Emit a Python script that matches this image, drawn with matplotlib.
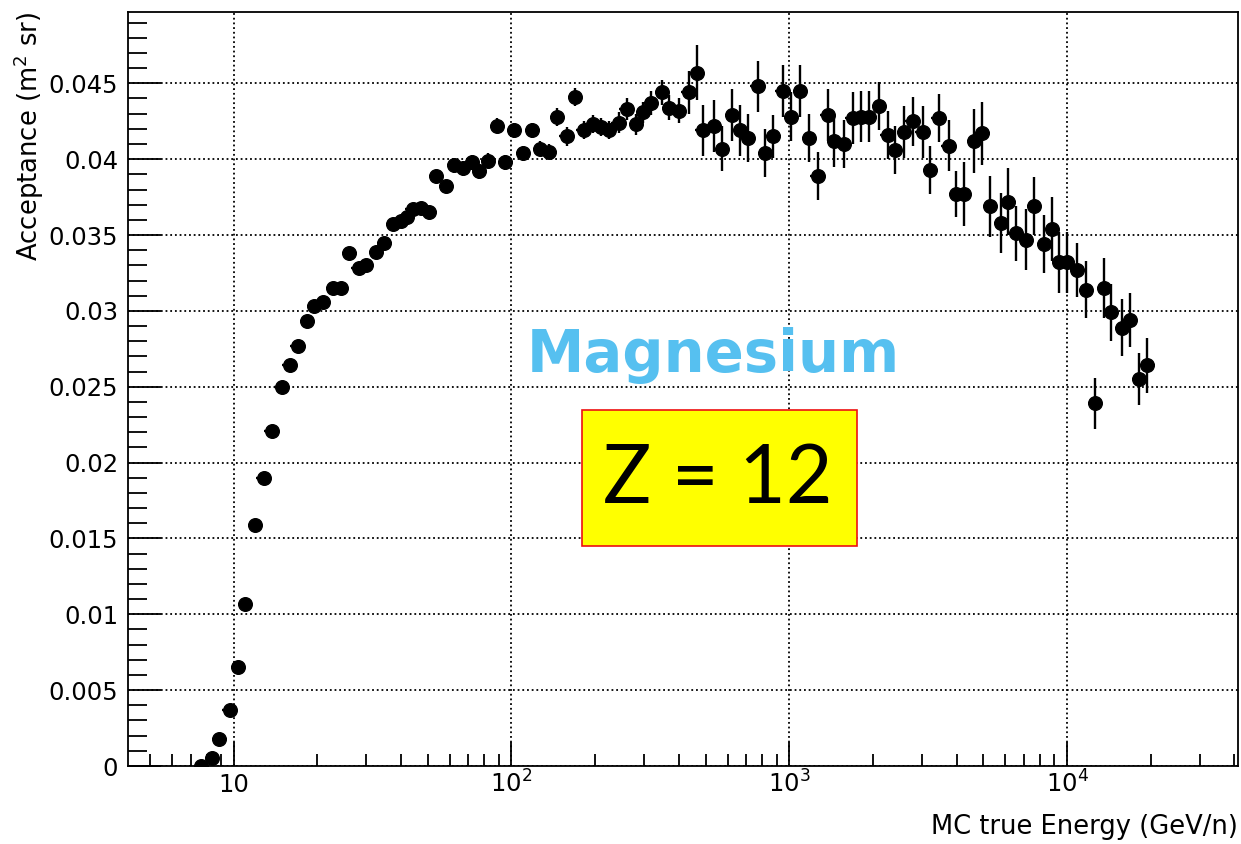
import matplotlib
matplotlib.use("Agg")
import matplotlib.pyplot as plt
from matplotlib.patches import Rectangle
import numpy as np

# acceptance vs MC true energy for Mg (Z = 12)
energy = [7.65, 8.36, 8.90, 9.67, 10.36, 11.0, 11.97, 12.82, 13.7, 14.9,
          15.9, 17.0, 18.4, 19.5, 20.9, 22.8, 24.4, 26.1, 28.2, 30.0,
          32.6, 34.9, 37.4, 40.1, 42.0, 44.1, 47.3, 50.7, 53.6, 58.2,
          62.0, 66.8, 72.0, 76.7, 82.2, 88.9, 95.1, 102, 110, 119,
          127, 137, 146, 158, 169, 182, 196, 210, 225, 243,
          260, 281, 297, 318, 349, 370, 400, 434, 464, 488,
          537, 573, 622, 665, 708, 769, 820, 876, 946, 1014,
          1092, 1180, 1264, 1374, 1453, 1568, 1690, 1811, 1941, 2100,
          2259, 2401, 2592, 2779, 3018, 3217, 3447, 3743, 3979, 4259,
          4628, 4957, 5268, 5776, 6150, 6536, 7100, 7606, 8262, 8810,
          9357, 10025, 10890, 11670, 12610, 13590, 14360, 15740, 16830, 18160,
          19460]

acceptance = [0.0000, 0.0005, 0.0018, 0.0037, 0.0065, 0.0107, 0.0159, 0.0190, 0.0221, 0.0250,
              0.0264, 0.0277, 0.0293, 0.0303, 0.0306, 0.0315, 0.0315, 0.0338, 0.0328, 0.0330,
              0.0339, 0.0345, 0.0357, 0.0359, 0.0362, 0.0367, 0.0368, 0.0365, 0.0389, 0.0382,
              0.0396, 0.0394, 0.0398, 0.0392, 0.0399, 0.0422, 0.0398, 0.0419, 0.0404, 0.0419,
              0.0407, 0.0405, 0.0428, 0.0415, 0.0441, 0.0419, 0.0423, 0.0421, 0.0419, 0.0424,
              0.0433, 0.0423, 0.0431, 0.0437, 0.0444, 0.0434, 0.0432, 0.0444, 0.0457, 0.0419,
              0.0422, 0.0407, 0.0429, 0.0419, 0.0414, 0.0448, 0.0404, 0.0415, 0.0445, 0.0428,
              0.0445, 0.0414, 0.0389, 0.0429, 0.0412, 0.0410, 0.0427, 0.0428, 0.0428, 0.0435,
              0.0416, 0.0406, 0.0418, 0.0425, 0.0418, 0.0393, 0.0427, 0.0409, 0.0377, 0.0377,
              0.0412, 0.0417, 0.0369, 0.0358, 0.0372, 0.0351, 0.0347, 0.0369, 0.0344, 0.0354,
              0.0332, 0.0332, 0.0327, 0.0314, 0.0239, 0.0315, 0.0299, 0.0289, 0.0294, 0.0255,
              0.0264]

acc_err = [0.0002, 0.0002, 0.0002, 0.0002, 0.0002, 0.0003, 0.0003, 0.0003, 0.0003, 0.0003,
           0.0003, 0.0003, 0.0003, 0.0003, 0.0003, 0.0003, 0.0003, 0.0004, 0.0004, 0.0004,
           0.0004, 0.0004, 0.0004, 0.0004, 0.0004, 0.0004, 0.0004, 0.0004, 0.0004, 0.0004,
           0.0005, 0.0005, 0.0005, 0.0005, 0.0005, 0.0005, 0.0005, 0.0005, 0.0005, 0.0005,
           0.0005, 0.0005, 0.0006, 0.0006, 0.0006, 0.0006, 0.0006, 0.0006, 0.0006, 0.0007,
           0.0007, 0.0007, 0.0007, 0.0008, 0.0008, 0.0008, 0.0008, 0.0014, 0.0018, 0.0017,
           0.0017, 0.0015, 0.0017, 0.0017, 0.0016, 0.0017, 0.0016, 0.0014, 0.0017, 0.0016,
           0.0017, 0.0016, 0.0016, 0.0017, 0.0017, 0.0016, 0.0017, 0.0017, 0.0017, 0.0016,
           0.0016, 0.0016, 0.0017, 0.0016, 0.0017, 0.0016, 0.0016, 0.0017, 0.0015, 0.0021,
           0.0021, 0.0021, 0.0020, 0.0020, 0.0022, 0.0018, 0.0020, 0.0019, 0.0019, 0.0021,
           0.0020, 0.0020, 0.0018, 0.0019, 0.0017, 0.0020, 0.0019, 0.0019, 0.0018, 0.0017,
           0.0018]

xtick_vals = [10, 100, 1000, 10000]
xtick_labels = ["10", "$10^{2}$", "$10^{3}$", "$10^{4}$"]
ytick_vals = [0, 0.005, 0.01, 0.015, 0.02, 0.025, 0.03, 0.035, 0.04, 0.045]
ytick_labels = ["0", "0.005", "0.01", "0.015", "0.02", "0.025", "0.03", "0.035", "0.04", "0.045"]

plt.rcParams["font.family"] = "DejaVu Sans"
plt.rcParams["mathtext.fontset"] = "dejavusans"

W, H = 1241, 844
fig = plt.figure(figsize=(W / 100, H / 100), dpi=100)
ax = fig.add_axes([128 / W, (H - 766) / H, 1110 / W, 754 / H])

E = np.array(energy)
half = 0.026  # half bin width in dex
xerr = [E - E / 10**half, E * 10**half - E]

ax.errorbar(E, acceptance, yerr=acc_err, xerr=xerr, fmt="o", color="black",
            ms=9.8, elinewidth=1.7, capsize=0, zorder=3)

ax.set_xscale("log")
ax.set_xlim(4.17, 41200)
ax.set_ylim(0, 0.0497)

ax.set_xticks(xtick_vals)
ax.set_xticklabels(xtick_labels)
ax.set_yticks(ytick_vals)
ax.set_yticklabels(ytick_labels)
ax.xaxis.set_minor_locator(matplotlib.ticker.LogLocator(base=10, subs=np.arange(2, 10)))
ax.xaxis.set_minor_formatter(matplotlib.ticker.NullFormatter())
ax.yaxis.set_minor_locator(matplotlib.ticker.MultipleLocator(0.001))

ax.tick_params(axis="both", which="both", direction="in", top=False, right=False,
               width=1.3, labelsize=17.5)
ax.tick_params(axis="y", which="major", length=24, pad=7)
ax.tick_params(axis="y", which="minor", length=14)
ax.tick_params(axis="x", which="major", length=17, pad=19)
ax.tick_params(axis="x", which="minor", length=9)
for lbl in ax.get_xticklabels():
    lbl.set_verticalalignment("baseline")

for s in ax.spines.values():
    s.set_linewidth(1.3)

ax.grid(True, which="major", color="black", linestyle=(0, (1, 1.6)), linewidth=1.3)
ax.set_axisbelow(True)

ax.set_ylabel("Acceptance (m$^{2}$ sr)", fontsize=18.6)
ax.yaxis.set_label_coords(-0.074, 1.0)
ax.yaxis.label.set_horizontalalignment("right")
ax.set_xlabel("MC true Energy (GeV/n)", fontsize=18.5)
ax.xaxis.set_label_coords(1.0, -0.063)
ax.xaxis.label.set_horizontalalignment("right")

# element name and charge box
ax.text(0.527, 0.523, "Magnesium", transform=ax.transAxes, ha="center", va="baseline",
        fontsize=41.5, fontweight="bold", color="#56c0f0", zorder=4)
ax.add_patch(Rectangle((0.409, 0.292), 0.248, 0.180, transform=ax.transAxes,
                       facecolor="#ffff00", edgecolor="#ee1111", linewidth=1.2, zorder=5))
ax.text(0.531, 0.379, "Z = 12", transform=ax.transAxes, ha="center", va="center",
        fontsize=58, family="Lato", color="black", zorder=6)

fig.savefig("out.png", dpi=100)
